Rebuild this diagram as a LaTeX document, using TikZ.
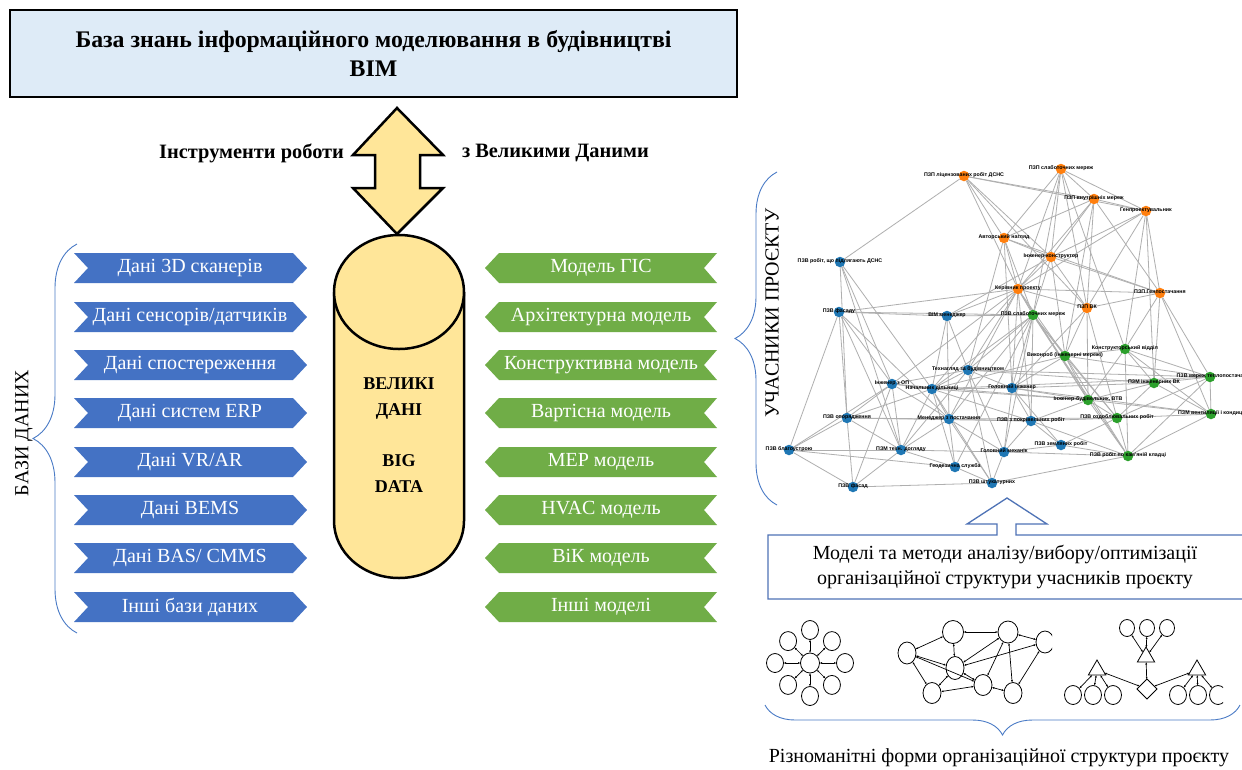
\documentclass[tikz,border=0pt]{standalone}
\usepackage{fontspec}
\setmainfont{Liberation Serif}
\newfontfamily\netfont{Liberation Sans}
\usetikzlibrary{shapes.geometric,decorations.pathreplacing,arrows.meta,backgrounds,calc}
\definecolor{titlefill}{HTML}{DEEBF7}
\definecolor{yel}{HTML}{FFE699}
\definecolor{bluechev}{HTML}{4472C4}
\definecolor{greenchev}{HTML}{70AD47}
\definecolor{braceblue}{HTML}{4A7BC6}
\definecolor{calloutc}{HTML}{4F73B6}
\definecolor{nodeor}{HTML}{FF7F0E}
\definecolor{nodebl}{HTML}{1F77B4}
\definecolor{nodegr}{HTML}{2CA02C}
\definecolor{edgegray}{HTML}{AFAFAF}
\def\netlist{%
o1/964/176/nodeor/{ПЗП ліцензованих робіт ДСНС},
o2/1061/169/nodeor/{ПЗП слаботочних мереж},
o3/1094/199/nodeor/{ПЗП внутрішніх мереж},
o4/1146/211/nodeor/{Генпроектувальник},
o5/1004/238/nodeor/{Авторський нагляд},
o6/1051/257/nodeor/{Інженер-конструктор},
o7/1018/289/nodeor/{Керівник проекту},
o8/1160/293/nodeor/{ПЗП Генпостачання},
o9/1087/308/nodeor/{ПЗП ВК},
b1/840/262/nodebl/{ПЗВ робіт, що підлягають ДСНС},
b2/839/312/nodebl/{ПЗВ фасаду},
b3/947/316/nodebl/{BIM менеджер},
b4/968/370/nodebl/{Технагляд за будівництвом},
b5/892/384/nodebl/{Інженер з ОП},
b6/932/389/nodebl/{Начальник дільниці},
b7/1012/388/nodebl/{Головний інженер},
b8/847/418/nodebl/{ПЗВ опорядження},
b9/949/419/nodebl/{Менеджер з постачання},
b10/1031/421/nodebl/{ПЗВ з покрівельних робіт},
b11/789/450/nodebl/{ПЗВ благоустрою},
b12/901/450/nodebl/{ПЗМ техн. догляду},
b13/1004/452/nodebl/{Головний механік},
b14/1061/445/nodebl/{ПЗВ земляних робіт},
b15/955/467/nodebl/{Геодезична служба},
b16/853/487/nodebl/{ПЗВ фасад},
b17/992/483/nodebl/{ПЗВ штукатурних},
g1/1033/315/nodegr/{ПЗВ слаботочних мереж},
g2/1065/356/nodegr/{Виконроб (інженерні мережі)},
g3/1125/349/nodegr/{Конструкторський відділ},
g4/1210/377/nodegr/{ПЗВ мереж теплопостача},
g5/1154/383/nodegr/{ПЗМ інженерних ВК},
g6/1088/400/nodegr/{Інженер-будівельник, ВТВ},
g7/1117/418/nodegr/{ПЗВ оздоблювальних робіт},
g8/1211/414/nodegr/{ПЗМ вентиляції і кондиц.},
g9/1128/456/nodegr/{ПЗВ робіт по кам'яній кладці}}
\def\edgelist{%
o1/b1,o1/o3,o1/o4,o1/o5,o1/o6,o1/o7,o1/o9,
o2/o3,o2/o4,o2/o5,o2/o6,o2/o7,o2/o9,o2/g1,o2/g3,
o3/o4,o3/o5,o3/o6,o3/o7,o3/o8,o3/o9,o3/g2,
o4/o6,o4/o7,o4/o8,o4/g3,o4/g5,o4/o9,
o5/o6,o5/o7,o5/g1,o5/b4,o5/b7,o5/o8,
o6/o7,o6/o8,o6/o9,o6/g1,o6/g2,o6/b3,
o7/b2,o7/b3,o7/o8,o7/o9,o7/g1,o7/g2,o7/b4,o7/b5,o7/b6,o7/b7,o7/b9,o7/b10,o7/g6,
o8/g4,o8/g3,o8/o9,o8/g8,o8/g5,
o9/g2,o9/g6,o9/g7,o9/b7,
b1/b5,b1/b6,b1/b8,b1/b12,
b2/b3,b2/g1,b2/b5,b2/b8,b2/b11,b2/b12,b2/b9,
b3/g1,b3/b6,b3/b4,b3/b9,
g1/g2,g1/g6,g1/b6,g1/b7,g1/b4,g1/b9,g1/b10,g1/b13,g1/g7,g1/g9,g1/b15,
b4/b5,b4/b6,b4/b7,b4/g5,b4/g4,b4/b13,b4/b17,b4/b12,
b5/b6,b5/b8,b5/b9,b5/b11,b5/b12,b5/b16,b5/g6,
b6/b7,b6/b8,b6/b9,b6/b10,b6/b12,b6/b15,b6/b17,b6/g4,b6/g6,b6/g2,
b7/g2,b7/g6,b7/b10,b7/b13,b7/b14,b7/g5,b7/g8,
b8/b9,b8/b11,b8/b12,b8/b16,b8/b10,
b9/b10,b9/b12,b9/b13,b9/b15,b9/b17,b9/g7,
b10/b14,b10/g7,b10/g6,b10/g9,b10/b13,
b11/b12,b11/b16,b11/b15,
b12/b13,b12/b16,b12/b15,
b13/b14,b13/b17,b13/g9,
b14/g9,b14/g7,
b15/b17,b16/b17,b17/g9,
g2/g3,g2/g6,g2/g7,g2/g9,g2/g4,
g3/g4,g3/g5,g3/g6,g3/g8,g3/g9,
g4/g5,g4/g8,g4/g9,g4/g7,
g5/g6,g5/g8,g5/g7,
g6/g7,g6/g8,g6/g9,
g7/g8,g7/g9,g8/g9}
\begin{document}
\begin{tikzpicture}[x=1pt,y=-1pt,
  every node/.style={inner sep=0pt, outer sep=0pt},
  t20/.style={font=\fontsize{20}{25}\selectfont},
  chevtxt/.style={text=white, font=\fontsize{20}{24}\selectfont},
  netdot/.style={circle, minimum size=10.5pt},
  netlbl/.style={font=\netfont\bfseries\fontsize{5.3}{6}\selectfont},
  netedge/.style={draw=edgegray, line width=0.8pt},
  bigline/.style={line width=2.5pt, line join=miter},
  brc/.style={draw=braceblue, line width=0.9pt, decorate, decoration={brace, amplitude=#1}},
  sn/.style={draw, ellipse, line width=0.8pt, minimum width=17pt, minimum height=19pt, fill=white},
  sa/.style={line width=0.7pt, {Latex[length=2.5pt,width=2pt]}-{Latex[length=2.5pt,width=2pt]}},
]
\useasboundingbox (0,0) rectangle (1242,769);

% title
\node[draw, line width=2.5pt, fill=titlefill, minimum width=727pt, minimum height=87pt,
  align=center, font=\bfseries\fontsize{23.8}{28.3}\selectfont] (title) at (373.5,53.5)
  {База знань інформаційного моделювання в будівництві\\BIM};

% double arrow
\draw[bigline, fill=yel] (397,108) -- (443,155) -- (420,155) -- (420,188) -- (443,188)
  -- (397,234) -- (353,188) -- (375,188) -- (375,155) -- (353,155) -- cycle;
\node[anchor=east, font=\bfseries\fontsize{20.4}{25}\selectfont] (toolsL) at (344,153) {Інструменти роботи};
\node[anchor=west, font=\bfseries\fontsize{20.4}{25}\selectfont] (toolsR) at (462,153) {з Великими Даними};

% cylinder
\draw[bigline, fill=yel] (334,292) -- (334,521) arc[start angle=180, end angle=0, x radius=65, y radius=57] -- (464,292);
\draw[bigline, fill=yel] (399,292) ellipse[x radius=65, y radius=57];
\node[align=center, font=\bfseries\fontsize{18}{25.75}\selectfont] (bigdata) at (399,435)
  {ВЕЛИКІ\\ДАНІ\\[25.75pt]BIG\\DATA};

% left chevrons
\foreach \i/\c/\tx in {1/268/{Дані 3D сканерів},2/317/{Дані сенсорів/датчиків},3/365/{Дані спостереження},
  4/413/{Дані систем ERP},5/462/{Дані VR/AR},6/510/{Дані BEMS},7/558/{Дані BAS/ CMMS},8/607/{Інші бази даних}} {
  \fill[bluechev] (74,\c-15) -- (293,\c-15) -- (307,\c) -- (293,\c+15) -- (74,\c+15) -- (88,\c) -- cycle;
  \node[chevtxt] (L\i) at (190,\c) {\tx};
}
% right chevrons
\foreach \i/\c/\tx in {1/268/{Модель ГІС},2/317/{Архітектурна модель},3/365/{Конструктивна модель},
  4/413/{Вартісна модель},5/462/{MEP модель},6/510/{HVAC модель},7/558/{ВіК модель},8/607/{Інші моделі}} {
  \fill[greenchev] (485,\c) -- (499,\c-15) -- (717,\c-15) -- (704,\c) -- (717,\c+15) -- (499,\c+15) -- cycle;
  \node[chevtxt] (M\i) at (601,\c) {\tx};
}

% braces and side labels
\draw[brc=44pt] (77,633) -- (77,244);
\node[t20, rotate=90] (bazy) at (24,433) {БАЗИ ДАНИХ};
\draw[brc=42pt] (777,505) -- (777,172);
\node[t20, rotate=90] (uch) at (772,313) {УЧАСНИКИ ПРОЄКТУ};

% network
\foreach \nm/\px/\py/\cl/\tx in \netlist {
  \node[netdot, fill=\cl] (\nm) at (\px,\py) {};
}
\begin{scope}[on background layer]
  \fill[white] (0,0) rectangle (1242,769);
  \foreach \a/\b in \edgelist { \draw[netedge] (\a) -- (\b); }
\end{scope}
\foreach \nm/\px/\py/\cl/\tx in \netlist {
  \node[netlbl] (\nm-t) at (\px,\py-1) {\tx};
}

% callout
\draw[draw=calloutc, line width=1.3pt, fill=white] (1242,535) -- (1016,535) -- (1016,524) -- (1047,524)
  -- (1007,498) -- (967,524) -- (997,524) -- (997,535) -- (768,535) -- (768,599) -- (1242,599);
\node[align=center, font=\fontsize{20}{25}\selectfont] (models) at (1005,567)
  {Моделі та методи аналізу/вибору/оптимізації\\організаційної структури учасників проєкту};

% star structure
\begin{scope}
  \clip (764,612) rectangle (857,708);
  \node[sn, minimum width=19pt, minimum height=20pt] (s0) at (810,663) {};
  \foreach \k/\ang/\d in {1/0/35,2/45/31,3/90/33,4/135/31,5/180/35,6/225/31,7/270/33,8/315/31} {
    \node[sn] (s\k) at ($(810,663)+(\ang:\d)$) {};
    \draw[sa] (s0) -- (s\k);
  }
\end{scope}

% network structure
\begin{scope}
  \clip (895,612) rectangle (1052,708);
  \node[sn, minimum width=21pt, minimum height=23pt] (mA) at (953,632) {};
  \node[sn, minimum width=20pt, minimum height=22pt] (mB) at (1008,632) {};
  \node[sn, minimum width=18pt, minimum height=22pt] (mC) at (1045,642) {};
  \node[sn, minimum width=18pt, minimum height=22pt] (mD) at (907,653) {};
  \node[sn, minimum width=18pt, minimum height=23pt] (mE) at (955,668) {};
  \node[sn, minimum width=18pt, minimum height=21pt] (mF) at (983,685) {};
  \node[sn, minimum width=18pt, minimum height=21pt] (mG) at (932,693) {};
  \node[sn, minimum width=18pt, minimum height=21pt] (mH) at (1013,693) {};
  \foreach \a/\b in {mA/mB,mA/mD,mA/mE,mB/mE,mB/mC,mD/mE,mD/mF,mD/mG,mE/mF,mE/mC,mG/mF,mF/mH,mB/mH,mB/mF,mC/mH,mG/mE}
    { \draw[sa] (\a) -- (\b); }
\end{scope}

% hierarchy structure
\begin{scope}
  \clip (1062,612) rectangle (1223,708);
  \node[sn, minimum width=15pt, minimum height=17pt] (h1) at (1127,628) {};
  \node[sn, minimum width=15pt, minimum height=17pt] (h2) at (1147,628) {};
  \node[sn, minimum width=15pt, minimum height=17pt] (h3) at (1167,628) {};
  \node[draw, fill=white, line width=0.8pt, regular polygon, regular polygon sides=3, minimum size=20pt] (hT) at (1146,657) {};
  \node[draw, fill=white, line width=0.8pt, regular polygon, regular polygon sides=3, minimum size=20pt] (hL) at (1097,670) {};
  \node[draw, fill=white, line width=0.8pt, regular polygon, regular polygon sides=3, minimum size=20pt] (hR) at (1197,670) {};
  \node[draw, fill=white, line width=0.8pt, diamond, minimum width=20pt, minimum height=20pt] (hD) at (1147,689) {};
  \foreach \k/\px in {1/1073,2/1093,3/1113} { \node[sn] (hb\k) at (\px,695) {}; }
  \foreach \k/\px in {1/1178,2/1198,3/1218} { \node[sn] (hc\k) at (\px,695) {}; }
  \foreach \a/\b in {h1/hT,h2/hT,h3/hT,hT/hD,hD/hL,hD/hR,hL/hb1,hL/hb2,hL/hb3,hR/hc1,hR/hc2,hR/hc3}
    { \draw[sa] (\a) -- (\b); }
\end{scope}

% bottom brace and caption
\draw[brc=30pt] (1240,705) -- (765,705);
\node[t20] (caption) at (999,758) {Різноманітні форми організаційної структури проєкту};
\end{tikzpicture}
\end{document}
